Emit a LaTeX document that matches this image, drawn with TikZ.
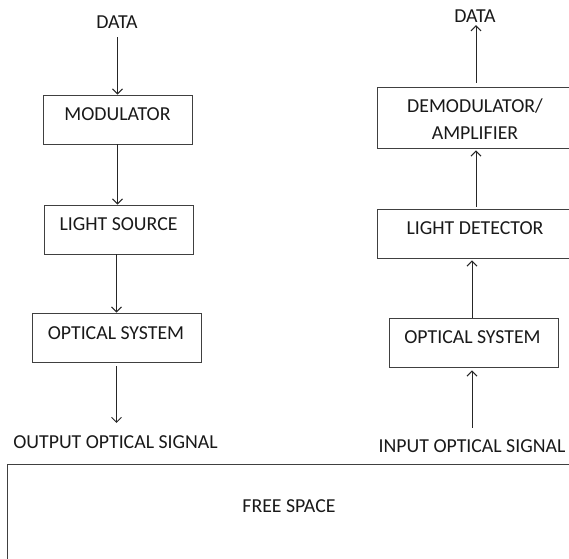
\documentclass[tikz,border=0pt]{standalone}
\usepackage{fontspec}
\setmainfont{Carlito}
\usetikzlibrary{arrows.meta}
\begin{document}
\begin{tikzpicture}[x=1pt,y=-1pt,
  box/.style={draw=black!75, line width=0.9pt, rectangle, inner sep=0pt},
  lbl/.style={inner sep=0pt, anchor=base, text=black!90, font=\fontsize{19.8}{27}\selectfont},
  arr/.style={draw=black!85, line width=1pt, -{Straight Barb[length=5pt,width=10pt]}}]
\useasboundingbox (0,0) rectangle (569,558);
\clip (0,0) rectangle (569,558);
% left column
\node[lbl] (dataL) at (117,28) {DATA};
\node[box, minimum width=149pt, minimum height=49pt] (mod) at (117.5,119.5) {};
\node[lbl] (modt) at (117.5,120) {MODULATOR};
\node[box, minimum width=149pt, minimum height=49pt] (ls) at (118.5,229.5) {};
\node[lbl] (lst) at (118.5,230) {LIGHT SOURCE};
\node[box, minimum width=169pt, minimum height=49pt] (osL) at (116.5,337.5) {};
\node[lbl] (osLt) at (116,339) {OPTICAL SYSTEM};
\node[lbl] (outt) at (115.5,448) {OUTPUT OPTICAL SIGNAL};
% right column
\node[lbl] (dataR) at (475,22) {DATA};
\node[box, minimum width=198pt, minimum height=61pt] (demod) at (476,117.5) {};
\node[lbl] (demodt1) at (475,112) {DEMODULATOR/};
\node[lbl] (demodt2) at (475,139) {AMPLIFIER};
\node[box, minimum width=198pt, minimum height=49pt] (ld) at (476,233.5) {};
\node[lbl] (ldt) at (475,234) {LIGHT DETECTOR};
\node[box, minimum width=169pt, minimum height=49pt] (osR) at (473.5,342.5) {};
\node[lbl] (osRt) at (472.5,343) {OPTICAL SYSTEM};
\node[lbl] (inpt) at (472,452) {INPUT OPTICAL SIGNAL};
% free space
\node[box, anchor=north west, minimum width=620pt, minimum height=150pt] (fs) at (7,464) {};
\node[lbl] (fst) at (289,512) {FREE SPACE};
% left arrows
\draw[arr] ([yshift=-9pt]dataL.south -| mod.north) -- (mod.north);
\draw[arr] (mod.south) -- (mod.south |- ls.north);
\draw[arr] (ls.south -| osL.north) -- (osL.north);
\draw[arr] ([yshift=-4pt]osL.south) -- ([yshift=12pt]osL.south |- outt.north);
% right arrows
\draw[arr] ([yshift=4pt]demod.north) -- ([yshift=-3pt]demod.north |- dataR.south);
\draw[arr] ([yshift=2pt]ld.north) -- ([yshift=-2pt]ld.north |- demod.south);
\draw[arr] (osR.north -| inpt.north) -- ([yshift=-2pt]ld.south -| inpt.north);
\draw[arr] ([yshift=11pt]inpt.north) -- ([yshift=-3pt]osR.south -| inpt.north);
\end{tikzpicture}
\end{document}
